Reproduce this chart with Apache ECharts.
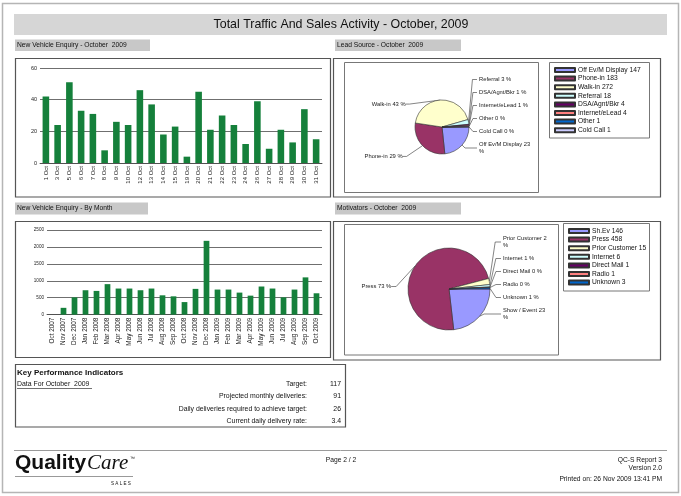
<!DOCTYPE html>
<html><head><meta charset="utf-8">
<script src="https://cdn.jsdelivr.net/npm/echarts@6/dist/echarts.min.js"></script>
<style>html,body{margin:0;padding:0;background:#fff}#c{width:681px;height:496px}</style>
</head><body><div id="c"></div>
<script>
// ---------- data ----------
const dayCategories = ['1 Oct','3 Oct','5 Oct','6 Oct','7 Oct','8 Oct','9 Oct','10 Oct','12 Oct','13 Oct','14 Oct','15 Oct','19 Oct','20 Oct','21 Oct','22 Oct','23 Oct','24 Oct','26 Oct','27 Oct','28 Oct','29 Oct','30 Oct','31 Oct'];
const dayValues = [42,24,51,33,31,8,26,24,46,37,18,23,4,45,21,30,24,12,39,9,21,13,34,15];
const dayTicks = [0,20,40,60];

const monthCategories = ['Oct 2007','Nov 2007','Dec 2007','Jan 2008','Feb 2008','Mar 2008','Apr 2008','May 2008','Jun 2008','Jul 2008','Aug 2008','Sep 2008','Oct 2008','Nov 2008','Dec 2008','Jan 2009','Feb 2009','Mar 2009','Apr 2009','May 2009','Jun 2009','Jul 2009','Aug 2009','Sep 2009','Oct 2009'];
const monthValues = [0,200,510,720,700,900,770,770,720,770,570,540,370,760,2180,740,740,650,560,830,770,510,740,1100,630];
const monthTicks = [0,500,1000,1500,2000,2500];

const leadNames = ['Off Ev/M Display','Phone-in','Walk-in','Referral','DSA/Agnt/Bkr','Internet/eLead','Other','Cold Call'];
const leadValues = [147,183,272,18,4,4,1,1];

const motivatorNames = ['Sh.Ev','Press','Prior Customer','Internet','Direct Mail','Radio','Unknown'];
const motivatorLabelNames = ['Show / Event','Press','Prior Customer','Internet','Direct Mail','Radio','Unknown'];
const motivatorValues = [146,458,15,6,1,1,3];

const kpiLabels = ['Target:','Projected monthly deliveries:','Daily deliveries required to achieve target:','Current daily delivery rate:'];
const kpiValues = ['117','91','26','3.4'];

// ---------- styles ----------
const FONT = 'Liberation Sans';
const BAR_COLOR = '#15803b';
const PALETTE = ['#9999ff','#993366','#ffffcc','#ccffff','#660066','#ff8080','#0066cc','#ccccff'];
const GRID_COLOR = '#4a4a4a';
// label nudges (pixels) for left-hand pie labels
const leadLabelShift = {'Walk-in':[-8,8],'Phone-in':[-11,8]};
const motivatorLabelShift = {'Press':[-12,24]};

const G = [];
function rect(x,y,w,h,st){G.push({type:'rect',silent:true,shape:{x:x,y:y,width:w,height:h},style:Object.assign({fill:'none',stroke:'#555',lineWidth:1},st||{})});}
function text(x,y,t,st){G.push({type:'text',silent:true,x:x,y:y,style:Object.assign({text:t,fontSize:6.7,fontFamily:FONT,fill:'#111',align:'left',verticalAlign:'middle'},st||{})});}
function line(x1,y1,x2,y2,st){G.push({type:'line',silent:true,shape:{x1:x1,y1:y1,x2:x2,y2:y2},style:Object.assign({stroke:'#999',lineWidth:1},st||{})});}

// page frame
rect(2.5,3.5,676,489,{stroke:'#b5b5b5',lineWidth:1.5});
// title bar
rect(14,14,653,21,{fill:'#d6d6d6',stroke:'none'});
text(341,24.5,'Total Traffic And Sales Activity - October, 2009',{fontSize:12.4,align:'center'});
// section headers
rect(15,39.5,135,11.5,{fill:'#c8c8c8',stroke:'none'});
text(17,45.3,'New Vehicle Enquiry - October  2009');
rect(335,39.5,126,11.5,{fill:'#c8c8c8',stroke:'none'});
text(337,45.3,'Lead Source - October  2009');
rect(15,202.5,133,12,{fill:'#c8c8c8',stroke:'none'});
text(17,208.6,'New Vehicle Enquiry - By Month');
rect(335,202.5,126,12,{fill:'#c8c8c8',stroke:'none'});
text(337,208.6,'Motivators - October  2009');
// panels
rect(15.5,58.5,315,138.5,{lineWidth:1.2});
rect(333.5,58.5,327,138.5,{lineWidth:1.2});
rect(15.5,221.5,315,136,{lineWidth:1.2});
rect(333.5,221.5,327,138.5,{lineWidth:1.2});
rect(344.5,62.5,194,130,{stroke:'#777'});
rect(549.5,62.5,100,75.5,{stroke:'#777'});
rect(344.5,224.5,214,130.5,{stroke:'#777'});
rect(563.5,223.5,86,67.5,{stroke:'#777'});
// KPI box
rect(15.5,364.5,330,62.5,{lineWidth:1.2});
text(17,373,'Key Performance Indicators',{fontSize:8,fontWeight:'bold'});
text(17,384.5,'Data For October  2009',{fontSize:6.9});
line(17,388.5,92,388.5,{stroke:'#111',lineWidth:0.6});
const kpiY = [384.5,396.5,409,421];
kpiLabels.forEach(function(l,i){
  text(307,kpiY[i],l,{fontSize:6.9,align:'right'});
  text(341,kpiY[i],kpiValues[i],{fontSize:6.9,align:'right'});
});
// footer
line(14,450.5,667,450.5,{stroke:'#9a9a9a'});
text(15,463.5,'Quality',{fontSize:21,fontWeight:'bold',fontFamily:'Liberation Sans'});
text(87,463.5,'Care',{fontSize:21,fontStyle:'italic',fontFamily:'Liberation Serif'});
text(130,459,'\u2122',{fontSize:5});
line(15,476.5,133,476.5,{stroke:'#999'});
text(111,483.5,'S A L E S',{fontSize:4.6});
text(341,460.5,'Page 2 / 2',{align:'center'});
text(662,460.5,'QC-S Report 3',{align:'right'});
text(662,468,'Version 2.0',{align:'right'});
text(662,479,'Printed on: 26 Nov 2009 13:41 PM',{align:'right'});

function pieData(names, values){
  return names.map(function(n,i){return {name:n,value:values[i],itemStyle:{color:PALETTE[i]}};});
}
function shiftLayout(names, shifts){
  return function(p){
    const s = shifts[names[p.dataIndex]];
    if(!s) return null;
    return {x:p.labelRect.x+p.labelRect.width+s[0], y:p.labelRect.y+s[1], align:'right', verticalAlign:'top'};
  };
}
const pieItemStyle = {borderColor:'#333',borderWidth:0.6};
const pieLabel = {show:true,fontSize:5.8,color:'#222',lineHeight:7,padding:[2,0,2,0],overflow:'break',distanceToLabelLine:2,alignTo:'labelLine'};

const option = {
  animation:false,
  textStyle:{fontFamily:FONT},
  graphic:{elements:G},
  grid:[
    {left:40,top:68,width:282,height:95,containLabel:false},
    {left:47,top:230,width:275,height:84.6,containLabel:false}
  ],
  xAxis:[
    {gridIndex:0,type:'category',data:dayCategories,
     axisLine:{show:true,lineStyle:{color:GRID_COLOR,width:0.8}},axisTick:{show:false},
     axisLabel:{rotate:90,interval:0,fontSize:6,margin:3,color:'#222'}},
    {gridIndex:1,type:'category',data:monthCategories,
     axisLine:{show:true,lineStyle:{color:GRID_COLOR,width:0.8}},axisTick:{show:false},
     axisLabel:{rotate:90,interval:0,fontSize:6.4,margin:3,color:'#222'}}
  ],
  yAxis:[
    {gridIndex:0,type:'value',min:dayTicks[0],max:dayTicks[dayTicks.length-1],interval:dayTicks[1]-dayTicks[0],
     axisLine:{show:false},axisTick:{show:false},
     splitLine:{lineStyle:{color:GRID_COLOR,width:0.8}},
     axisLabel:{fontSize:5.5,margin:3,color:'#222'}},
    {gridIndex:1,type:'value',min:monthTicks[0],max:monthTicks[monthTicks.length-1],interval:monthTicks[1]-monthTicks[0],
     axisLine:{show:false},axisTick:{show:false},
     splitLine:{lineStyle:{color:GRID_COLOR,width:0.8}},
     axisLabel:{fontSize:4.6,margin:3,color:'#222',formatter:function(v){return String(v);}}}
  ],
  legend:[
    {data:leadNames,orient:'vertical',left:554,top:66,padding:0,itemWidth:20,itemHeight:4,itemGap:0.6,icon:'rect',
     textStyle:{fontSize:6.7,lineHeight:8,color:'#111',padding:[0,0,0,-2]},
     formatter:function(n){return n+' '+leadValues[leadNames.indexOf(n)];},selectedMode:false},
    {data:motivatorNames,orient:'vertical',left:568,top:227,padding:0,itemWidth:20,itemHeight:4,itemGap:0.6,icon:'rect',
     textStyle:{fontSize:6.7,lineHeight:8,color:'#111',padding:[0,0,0,-2]},
     formatter:function(n){return n+' '+motivatorValues[motivatorNames.indexOf(n)];},selectedMode:false}
  ],
  series:[
    {type:'bar',xAxisIndex:0,yAxisIndex:0,data:dayValues,barWidth:'56%',itemStyle:{color:BAR_COLOR}},
    {type:'bar',xAxisIndex:1,yAxisIndex:1,data:monthValues,barWidth:'52%',itemStyle:{color:BAR_COLOR}},
    {type:'pie',left:344,top:62,width:195,height:96,center:[98,65],radius:27,startAngle:0,clockwise:true,
     percentPrecision:0,data:pieData(leadNames,leadValues),itemStyle:pieItemStyle,avoidLabelOverlap:true,
     label:Object.assign({},pieLabel,{width:54,formatter:function(p){return leadNames[p.dataIndex]+' '+p.percent+' %';}}),
     labelLine:{show:true,length:4,length2:4,lineStyle:{color:'#333',width:0.6}},
     labelLayout:shiftLayout(leadNames,leadLabelShift),
     emphasis:{disabled:true}},
    {type:'pie',left:344,top:224,width:215,height:100,center:[105,65],radius:41,startAngle:0,clockwise:true,
     percentPrecision:0,data:pieData(motivatorNames,motivatorValues),itemStyle:pieItemStyle,avoidLabelOverlap:true,
     label:Object.assign({},pieLabel,{width:46,formatter:function(p){return motivatorLabelNames[p.dataIndex]+' '+p.percent+' %';}}),
     labelLine:{show:true,length:6,length2:5,lineStyle:{color:'#333',width:0.6}},
     labelLayout:shiftLayout(motivatorNames,motivatorLabelShift),
     emphasis:{disabled:true}}
  ]
};
const chart = echarts.init(document.getElementById('c'),null,{renderer:'canvas'});
chart.setOption(option);
</script></body></html>
